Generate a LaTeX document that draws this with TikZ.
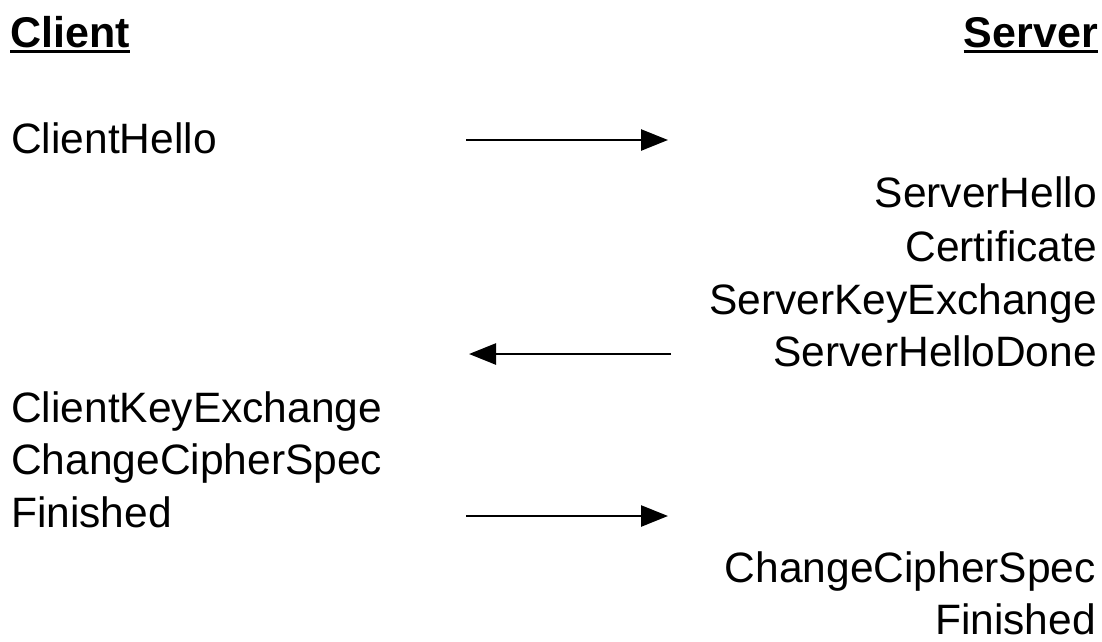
\documentclass[tikz,border=0pt]{standalone}
\usepackage{fontspec}
\setmainfont{Liberation Sans}
\usetikzlibrary{arrows.meta}
\begin{document}
\begin{tikzpicture}[x=1pt,y=-1pt,
  lbl/.style={inner sep=0pt,font=\fontsize{42.5}{52}\selectfont},
  lft/.style={lbl,anchor=base west},
  rgt/.style={lbl,anchor=base east},
  hdr/.style={inner sep=0pt,font=\fontsize{43}{52}\selectfont\bfseries},
  uline/.style={line width=3pt},
  msg/.style={line width=2.6pt,-{Triangle[length=27pt,width=21pt]}}]
\useasboundingbox (0,0) rectangle (1102,641);
% headers
\node[hdr,anchor=base west] (client) at (10,47) {Client};
\node[hdr,anchor=base east] (server) at (1098,47) {Server};
\draw[uline] ([yshift=-4pt]client.base west) -- ([yshift=-4pt]client.base east);
\draw[uline] ([yshift=-4pt]server.base west) -- ([yshift=-4pt]server.base east);
% client messages
\node[lft] (ch) at (11,153) {ClientHello};
\node[lft] (cke) at (11,422) {ClientKeyExchange};
\node[lft] (cccs) at (11,474) {ChangeCipherSpec};
\node[lft] (cfin) at (11,527) {Finished};
% server messages
\node[rgt] (sh) at (1097,207) {ServerHello};
\node[rgt] (cert) at (1097,261) {Certificate};
\node[rgt] (ske) at (1097,314) {ServerKeyExchange};
\node[rgt] (shd) at (1097,366) {ServerHelloDone};
\node[rgt] (sccs) at (1096,582) {ChangeCipherSpec};
\node[rgt] (sfin) at (1096,634) {Finished};
% arrows
\coordinate (a1s) at (466,140);
\coordinate (a1e) at (668,140);
\coordinate (a2s) at (671,354);
\coordinate (a2e) at (469,354);
\coordinate (a3s) at (466,516);
\coordinate (a3e) at (668,516);
\draw[msg] (a1s) -- (a1e);
\draw[msg] (a2s) -- (a2e);
\draw[msg] (a3s) -- (a3e);
\end{tikzpicture}
\end{document}
